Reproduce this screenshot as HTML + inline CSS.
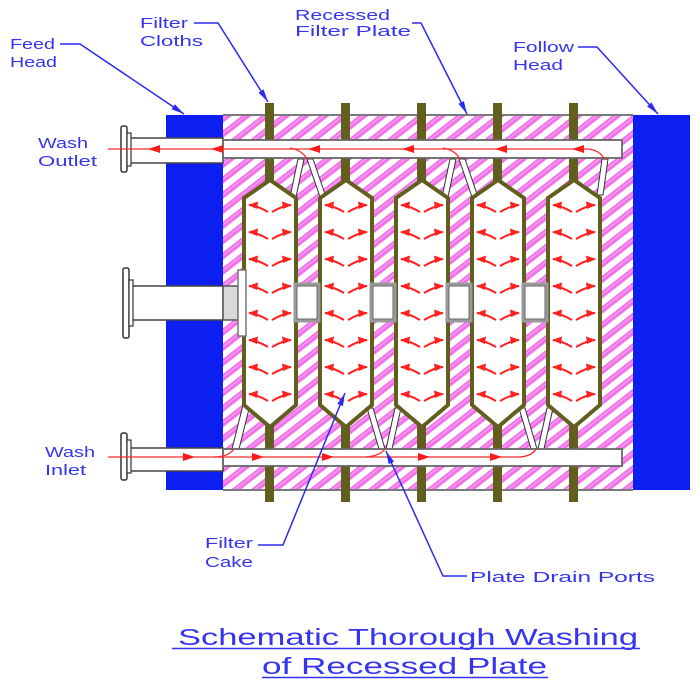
<!DOCTYPE html>
<html><head><meta charset="utf-8"><style>
html,body{margin:0;padding:0;background:#fff;}
svg{display:block;}
text{font-family:"Liberation Sans",sans-serif;fill:#3434f2;}
</style></head><body>
<svg width="700" height="680" viewBox="0 0 700 680" xmlns="http://www.w3.org/2000/svg">
<defs>
<pattern id="hatch" patternUnits="userSpaceOnUse" width="12" height="12" patternTransform="rotate(-38)">
<rect x="0" y="0" width="12" height="12" fill="#fff"/>
<rect x="0" y="0" width="12" height="6" fill="#f272e9"/>
<rect x="0" y="2" width="12" height="0.8" fill="#f9b8f5"/>
</pattern>
<marker id="ah" markerWidth="14" markerHeight="8" refX="13" refY="4" orient="auto" markerUnits="userSpaceOnUse">
<path d="M0,1 L13,4 L0,7 Z" fill="#2a2af0"/>
</marker>
<g id="aL"><path d="M0,0 Q9,1 19,7" stroke="#ff2020" stroke-width="2" fill="none"/><path d="M-1,0 L9,-3.5 L8,4 Z" fill="#ff2020"/></g>
<g id="aR"><path d="M0,0 Q-9,1 -19,7" stroke="#ff2020" stroke-width="2" fill="none"/><path d="M1,0 L-9,-3.5 L-8,4 Z" fill="#ff2020"/></g>
<path id="tL" d="M0,0 L12,-4 L12,4 Z" fill="#ff1a1a"/>
<path id="tR" d="M0,0 L-12,-4 L-12,4 Z" fill="#ff1a1a"/>
</defs>

<rect x="223" y="115" width="410" height="375" fill="url(#hatch)"/>
<line x1="223" y1="115" x2="633" y2="115" stroke="#7a7a7a" stroke-width="2"/>
<line x1="223" y1="490" x2="633" y2="490" stroke="#7a7a7a" stroke-width="2"/>

<rect x="166" y="115" width="57" height="375" fill="#0a1ff0"/>
<rect x="633" y="115" width="57" height="375" fill="#0a1ff0"/>

<g fill="#fff" stroke="#333" stroke-width="1">
<polygon points="298,159 304,159 296,197 290,197"/>
<polygon points="307,159 313,159 326,197 320,197"/>
<polygon points="450,159 456,159 448,197 442,197"/>
<polygon points="459,159 465,159 478,197 472,197"/>
<polygon points="602,159 608,159 603,195 597,195"/>
<polygon points="243,405 250,405 239,449 232,449"/>
<polygon points="367,408 373,408 385,449 379,449"/>
<polygon points="395,408 401,408 392,449 386,449"/>
<polygon points="519,408 525,408 537,449 531,449"/>
<polygon points="547,408 553,408 544,449 538,449"/>
</g>

<g fill="#fff" stroke="#625e1e" stroke-width="4">
<polygon points="270,180 296,198 296,405 270,427 244,405 244,198"/>
<polygon points="346,180 372,198 372,405 346,427 320,405 320,198"/>
<polygon points="422,180 448,198 448,405 422,427 396,405 396,198"/>
<polygon points="498,180 524,198 524,405 498,427 472,405 472,198"/>
<polygon points="574,180 600,198 600,405 574,427 548,405 548,198"/>
</g>
<g fill="#625e1e">
<rect x="265" y="103" width="9" height="78"/><rect x="265" y="426" width="9" height="76"/>
<rect x="341" y="103" width="9" height="78"/><rect x="341" y="426" width="9" height="76"/>
<rect x="417" y="103" width="9" height="78"/><rect x="417" y="426" width="9" height="76"/>
<rect x="493" y="103" width="9" height="78"/><rect x="493" y="426" width="9" height="76"/>
<rect x="569" y="103" width="9" height="78"/><rect x="569" y="426" width="9" height="76"/>
</g>

<g fill="#fff" stroke="#9a9a9a" stroke-width="3">
<rect x="295" y="284" width="24" height="37"/>
<rect x="371" y="284" width="24" height="37"/>
<rect x="447" y="284" width="24" height="37"/>
<rect x="523" y="284" width="24" height="37"/>
</g>
<g fill="none" stroke="#444" stroke-width="0.8">
<rect x="297" y="286" width="20" height="33"/>
<rect x="373" y="286" width="20" height="33"/>
<rect x="449" y="286" width="20" height="33"/>
<rect x="525" y="286" width="20" height="33"/>
</g>

<g>
<use href="#aL" x="249" y="205"/><use href="#aR" x="291" y="205"/>
<use href="#aL" x="249" y="232"/><use href="#aR" x="291" y="232"/>
<use href="#aL" x="249" y="259"/><use href="#aR" x="291" y="259"/>
<use href="#aL" x="249" y="286"/><use href="#aR" x="291" y="286"/>
<use href="#aL" x="249" y="313"/><use href="#aR" x="291" y="313"/>
<use href="#aL" x="249" y="340"/><use href="#aR" x="291" y="340"/>
<use href="#aL" x="249" y="367"/><use href="#aR" x="291" y="367"/>
<use href="#aL" x="249" y="394"/><use href="#aR" x="291" y="394"/>
<use href="#aL" x="325" y="205"/><use href="#aR" x="367" y="205"/>
<use href="#aL" x="325" y="232"/><use href="#aR" x="367" y="232"/>
<use href="#aL" x="325" y="259"/><use href="#aR" x="367" y="259"/>
<use href="#aL" x="325" y="286"/><use href="#aR" x="367" y="286"/>
<use href="#aL" x="325" y="313"/><use href="#aR" x="367" y="313"/>
<use href="#aL" x="325" y="340"/><use href="#aR" x="367" y="340"/>
<use href="#aL" x="325" y="367"/><use href="#aR" x="367" y="367"/>
<use href="#aL" x="325" y="394"/><use href="#aR" x="367" y="394"/>
<use href="#aL" x="401" y="205"/><use href="#aR" x="443" y="205"/>
<use href="#aL" x="401" y="232"/><use href="#aR" x="443" y="232"/>
<use href="#aL" x="401" y="259"/><use href="#aR" x="443" y="259"/>
<use href="#aL" x="401" y="286"/><use href="#aR" x="443" y="286"/>
<use href="#aL" x="401" y="313"/><use href="#aR" x="443" y="313"/>
<use href="#aL" x="401" y="340"/><use href="#aR" x="443" y="340"/>
<use href="#aL" x="401" y="367"/><use href="#aR" x="443" y="367"/>
<use href="#aL" x="401" y="394"/><use href="#aR" x="443" y="394"/>
<use href="#aL" x="477" y="205"/><use href="#aR" x="519" y="205"/>
<use href="#aL" x="477" y="232"/><use href="#aR" x="519" y="232"/>
<use href="#aL" x="477" y="259"/><use href="#aR" x="519" y="259"/>
<use href="#aL" x="477" y="286"/><use href="#aR" x="519" y="286"/>
<use href="#aL" x="477" y="313"/><use href="#aR" x="519" y="313"/>
<use href="#aL" x="477" y="340"/><use href="#aR" x="519" y="340"/>
<use href="#aL" x="477" y="367"/><use href="#aR" x="519" y="367"/>
<use href="#aL" x="477" y="394"/><use href="#aR" x="519" y="394"/>
<use href="#aL" x="553" y="205"/><use href="#aR" x="595" y="205"/>
<use href="#aL" x="553" y="232"/><use href="#aR" x="595" y="232"/>
<use href="#aL" x="553" y="259"/><use href="#aR" x="595" y="259"/>
<use href="#aL" x="553" y="286"/><use href="#aR" x="595" y="286"/>
<use href="#aL" x="553" y="313"/><use href="#aR" x="595" y="313"/>
<use href="#aL" x="553" y="340"/><use href="#aR" x="595" y="340"/>
<use href="#aL" x="553" y="367"/><use href="#aR" x="595" y="367"/>
<use href="#aL" x="553" y="394"/><use href="#aR" x="595" y="394"/>
</g>

<rect x="132" y="286" width="91" height="34" fill="#fff" stroke="#444" stroke-width="1.5"/>
<rect x="223" y="286" width="15" height="34" fill="#d9d9d9" stroke="#555" stroke-width="1.5"/>
<rect x="238" y="270" width="8" height="66" fill="#fff" stroke="#777" stroke-width="1.5"/>
<rect x="123" y="268" width="6" height="70" rx="2" fill="#fff" stroke="#333" stroke-width="1.5"/>
<rect x="129" y="280" width="4" height="46" fill="#fff" stroke="#333" stroke-width="1.2"/>

<rect x="130" y="138" width="93" height="25" fill="#fff" stroke="#444" stroke-width="1.5"/>
<rect x="223" y="140" width="399" height="18" fill="#fff" stroke="#666" stroke-width="1.8"/>
<rect x="121" y="126" width="6" height="46" rx="2" fill="#fff" stroke="#333" stroke-width="1.5"/>
<rect x="127" y="133" width="4" height="33" fill="#fff" stroke="#333" stroke-width="1.2"/>

<rect x="130" y="448" width="93" height="23" fill="#fff" stroke="#444" stroke-width="1.5"/>
<rect x="223" y="449" width="399" height="17" fill="#fff" stroke="#666" stroke-width="1.8"/>
<rect x="121" y="433" width="6" height="47" rx="2" fill="#fff" stroke="#333" stroke-width="1.5"/>
<rect x="127" y="440" width="4" height="33" fill="#fff" stroke="#333" stroke-width="1.2"/>

<g stroke="#ff2a2a" stroke-width="1.3" fill="none">
<path d="M108,149 L588,149 Q600,150 605,160"/>
<path d="M290,148 Q302,150 307,159"/>
<path d="M443,148 Q455,150 460,159"/>
<path d="M108,457 L520,457 Q532,456 536,449"/>
<path d="M214,457 Q228,457 234,449"/>
<path d="M366,457 Q380,456 385,449"/>
</g>
<g>
<use href="#tL" x="148" y="149"/><use href="#tL" x="211" y="149"/>
<use href="#tL" x="308" y="149"/><use href="#tL" x="402" y="149"/>
<use href="#tL" x="495" y="149"/><use href="#tL" x="572" y="149"/>
<use href="#tR" x="195" y="457"/><use href="#tR" x="264" y="457"/>
<use href="#tR" x="334" y="457"/><use href="#tR" x="430" y="457"/>
<use href="#tR" x="502" y="457"/>
</g>

<g stroke="#2a2af0" stroke-width="1.5" fill="none" marker-end="url(#ah)">
<polyline points="60,44 80,44 184,114"/>
<polyline points="194,23 218,23 268,102"/>
<polyline points="412,23 421,23 467,114"/>
<polyline points="578,47 597,47 658,114"/>
<polyline points="258,545 283,545 345,393"/>
<polyline points="467,576 443,576 386,451"/>
</g>

<g font-size="14.5">
<text x="10" y="49" textLength="45" lengthAdjust="spacingAndGlyphs">Feed</text>
<text x="10" y="67" textLength="47" lengthAdjust="spacingAndGlyphs">Head</text>
<text x="140" y="28" textLength="48" lengthAdjust="spacingAndGlyphs">Filter</text>
<text x="140" y="46" textLength="63" lengthAdjust="spacingAndGlyphs">Cloths</text>
<text x="295" y="20" textLength="95" lengthAdjust="spacingAndGlyphs">Recessed</text>
<text x="295" y="36" textLength="116" lengthAdjust="spacingAndGlyphs">Filter Plate</text>
<text x="513" y="52" textLength="61" lengthAdjust="spacingAndGlyphs">Follow</text>
<text x="513" y="70" textLength="50" lengthAdjust="spacingAndGlyphs">Head</text>
<text x="38" y="148" textLength="50" lengthAdjust="spacingAndGlyphs">Wash</text>
<text x="38" y="166" textLength="59" lengthAdjust="spacingAndGlyphs">Outlet</text>
<text x="45" y="457" textLength="50" lengthAdjust="spacingAndGlyphs">Wash</text>
<text x="45" y="475" textLength="41" lengthAdjust="spacingAndGlyphs">Inlet</text>
<text x="205" y="548" textLength="48" lengthAdjust="spacingAndGlyphs">Filter</text>
<text x="205" y="567" textLength="48" lengthAdjust="spacingAndGlyphs">Cake</text>
<text x="470" y="582" textLength="185" lengthAdjust="spacingAndGlyphs">Plate Drain Ports</text>
</g>

<text x="178" y="645" font-size="23" textLength="460" lengthAdjust="spacingAndGlyphs">Schematic Thorough Washing</text>
<line x1="172" y1="648.5" x2="640" y2="648.5" stroke="#3434f2" stroke-width="1.5"/>
<text x="262" y="674" font-size="23" textLength="285" lengthAdjust="spacingAndGlyphs">of Recessed Plate</text>
<line x1="262" y1="677.5" x2="548" y2="677.5" stroke="#3434f2" stroke-width="1.5"/>
</svg>
</body></html>
